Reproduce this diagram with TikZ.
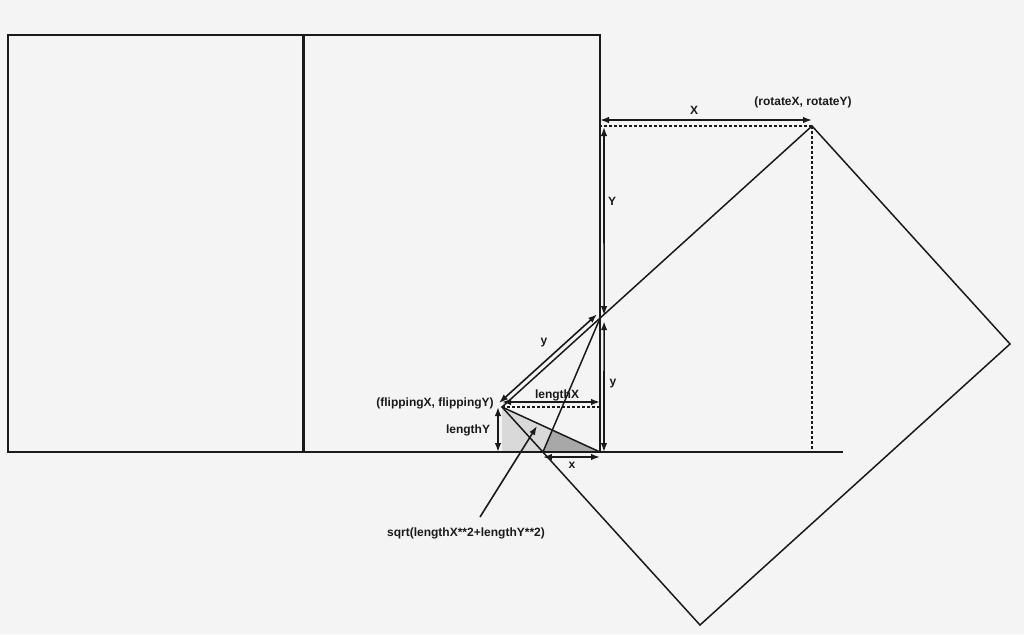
\documentclass[tikz,border=0pt]{standalone}
\usepackage{fontspec}
\setmainfont{Liberation Sans}
\usetikzlibrary{arrows.meta,calc}
\definecolor{paper}{HTML}{F4F4F4}
\definecolor{ink}{HTML}{1A1A1A}
\definecolor{shadelight}{HTML}{D9D9D9}
\definecolor{shadedark}{HTML}{A8A8A8}
\tikzstyle{edge}=[draw=ink, line width=1.5pt]
\tikzstyle{dim}=[draw=ink, line width=1.6pt, {Latex[length=9pt,width=6.5pt]}-{Latex[length=9pt,width=6.5pt]}]
\tikzstyle{pointer}=[draw=ink, line width=1.6pt, -{Latex[length=9pt,width=6.5pt]}]
\tikzstyle{guide}=[draw=ink, line width=1.4pt, dash pattern=on 3pt off 2pt]
\tikzstyle{lbl}=[font=\bfseries\fontsize{12}{14}\selectfont, text=ink, inner sep=1pt]

\begin{document}
\begin{tikzpicture}[x=1pt, y=-1pt]
\fill[paper] (0,0) rectangle (1024,634);
\useasboundingbox (0,0) rectangle (1024,634);

% frames and ground line
\coordinate (tl) at (8,35);
\coordinate (tm) at (303,35);
\coordinate (tr) at (600,35);
\coordinate (bl) at (8,452);
\coordinate (bm) at (303,452);
\coordinate (br) at (600,452);
\coordinate (bend) at (843,452);

% rotated rectangle
\coordinate (flip) at (502,407);
\coordinate (rot) at (812,126);
\coordinate (rc) at (1010,344);
\coordinate (rb) at (700,625);
\coordinate (pivot) at (intersection of flip--rot and tr--br);
\coordinate (cut) at (intersection of flip--rb and bl--bend);
\coordinate (foot) at (flip |- br);
\coordinate (meet) at (intersection of pivot--cut and flip--br);

% shaded triangles
\fill[shadelight] (flip) -- (foot) -- (br) -- cycle;
\fill[shadedark] (meet) -- (cut) -- (br) -- cycle;

\draw[edge] (tl) rectangle (bm);
\draw[edge] (tm) rectangle (br);
\draw[draw=ink, line width=3pt] (tm) -- (bm);
\draw[edge] (bl) -- (bend);
\draw[edge, line join=miter] (flip) -- (rot) -- (rc) -- (rb) -- cycle;
\draw[edge] (flip) -- (br);
\draw[edge] (pivot) -- (cut);

% guides
\draw[guide] (rot) -- (rot -| tr);
\draw[guide] (rot) -- (rot |- br);
\draw[guide] (flip) -- (flip -| br);

% dimensions
\coordinate (xa) at ($(rot -| tr)+(0,-6)$);
\coordinate (xb) at ($(rot)+(0,-6)$);
\draw[dim] (xa) -- (xb);
\coordinate (ya) at ($(rot -| tr)+(4,1)$);
\coordinate (yb) at ($(pivot)+(4,-3)$);
\draw[dim] (ya) -- (yb);
\coordinate (yb2) at ($(pivot)+(4,3)$);
\coordinate (yc) at ($(br)+(4,0)$);
\draw[dim] (yb2) -- (yc);
\coordinate (da) at ($(flip)+(-3,-4)$);
\coordinate (db) at ($(pivot)+(-3,-4)$);
\draw[dim] (da) -- (db);
\coordinate (la) at ($(flip)+(0,-5)$);
\coordinate (lb) at ($(flip -| br)+(0,-5)$);
\draw[dim] (la) -- (lb);
\coordinate (ma) at ($(flip)+(-4,0)$);
\coordinate (mb) at ($(foot)+(-4,0)$);
\draw[dim] (ma) -- (mb);
\coordinate (sa) at ($(cut)+(0,5)$);
\coordinate (sb) at ($(br)+(0,5)$);
\draw[dim] (sa) -- (sb);

% labels
\node[lbl] (rotlbl) at (803,102) {(rotateX, rotateY)};
\node[lbl] (fliplbl) at (435,403) {(flippingX, flippingY)};
\node[lbl] (bigX) at (694,110) {X};
\node[lbl] (bigY) at (612,201) {Y};
\node[lbl] (diagy) at (544,343) {y};
\node[lbl] (verty) at (613,384) {y};
\node[lbl] (lenX) at (557,395) {lengthX};
\node[lbl] (lenY) at (468,430) {lengthY};
\node[lbl] (smallx) at (572,465) {x};
\node[lbl] (sqrtlbl) at (466,533) {sqrt(lengthX**2+lengthY**2)};

\coordinate (sqtail) at (480,517);
\coordinate (sqhead) at (537,426);
\draw[pointer] (sqtail) -- (sqhead);
\end{tikzpicture}
\end{document}
